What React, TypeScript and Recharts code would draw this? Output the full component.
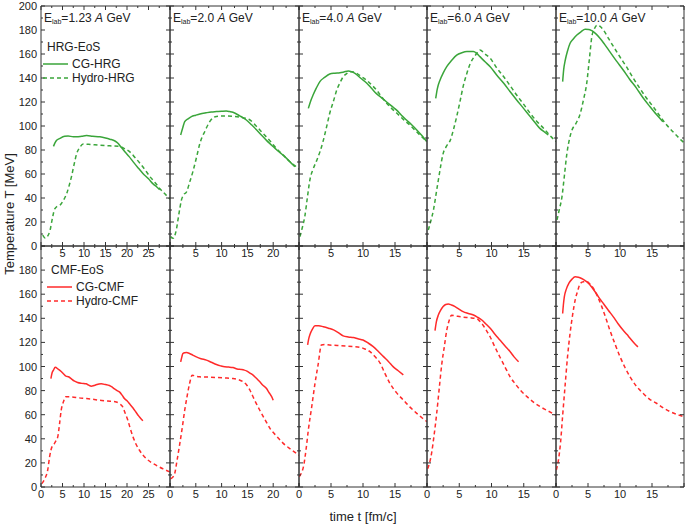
import { LineChart, Line, XAxis, YAxis } from 'recharts';

// beam energies (A GeV) per column and the time range of each column
const energies = ['1.23', '2.0', '4.0', '6.0', '10.0'];
const xMaxes = [30, 25, 20, 20, 20];
const yTicks = [0, 10, 20, 30, 40, 50, 60, 70, 80, 90, 100, 110, 120, 130, 140, 150, 160, 170, 180, 190, 200];
const xTicks30 = [0, 2.5, 5, 7.5, 10, 12.5, 15, 17.5, 20, 22.5, 25, 27.5, 30];
const xTicks25 = [0, 2.5, 5, 7.5, 10, 12.5, 15, 17.5, 20, 22.5, 25];
const xTicks20 = [0, 2.5, 5, 7.5, 10, 12.5, 15, 17.5, 20];

// [t fm/c, T MeV]  HRG equation of state (top row)
const cgHrg1 = [[2.9,83],[3.5,87.5],[4.4,89.7],[5.5,91.5],[6.3,91.7],[7.5,91],[8.3,91],[9.5,91.5],[10.6,92],[12,91.5],[13.7,91],[15,90],[16,89],[17.2,87.5],[17.9,85.6],[18.7,82],[19.5,78.6],[20.5,74.5],[21.4,70.3],[22.5,65.5],[23.7,60.5],[25,56],[26,52],[27,49],[27.6,47]];
const hydroHrg1 = [[0.4,9],[1,6.5],[1.5,8],[2.1,13],[2.7,24],[3.2,31],[4,33.5],[4.4,34],[5.2,38],[6,44],[6.6,51],[7.1,58],[7.7,68],[8.3,77],[9,82],[9.8,85],[11,84.8],[13.7,84],[16,83.5],[18.3,83],[19.5,81],[20.6,78.6],[21.8,74],[23,69],[24.2,63.5],[25.3,58],[26.5,53],[27.6,48],[28.8,43.5],[30,39]];
const cgHrg2 = [[2.07,92.5],[2.5,99],[2.85,103.6],[3.5,106],[4.15,107.8],[5,109],[5.8,110],[7,111],[8,111.7],[9,112],[10,112.3],[10.9,112.5],[11.6,112],[12.2,111.4],[13.5,108.5],[14.8,105],[15.8,101],[16.8,96.7],[17.8,92],[18.7,88],[19.7,84],[20.7,80],[21.7,76.5],[22.6,73],[23.4,69.5],[24.2,66]];
const hydroHrg2 = [[0.1,7.8],[0.6,6.4],[1.2,13],[1.7,26],[2.2,38],[2.7,43],[3.2,45],[3.8,53],[4.5,63],[5.2,75],[5.8,85.6],[6.8,96],[7.7,103.6],[8.4,107],[9,108],[10.5,108.3],[12.2,108],[14,107],[15.5,105],[16.8,99.5],[18,94],[19.4,87.5],[20.7,81],[22,75.5],[23.3,70],[24.2,67],[25,64]];
const cgHrg4 = [[1.46,114.7],[1.8,120.5],[2.2,125.8],[2.7,131.5],[3.26,137],[4,140.5],[4.8,143.3],[5.6,144],[6.4,144.4],[7,145],[7.7,145.8],[8.2,145.3],[8.75,143.9],[9.6,140],[10.6,135.6],[11.4,131],[12.1,127],[12.9,123.5],[13.7,120],[14.5,116.5],[15.3,113],[16,109],[16.8,105],[17.6,101],[18.4,96.7],[19.2,92],[19.95,87]];
const hydroHrg4 = [[0.16,7.8],[0.5,15],[0.9,24.4],[1.3,40],[1.7,55],[2.2,64],[2.8,71.7],[3.3,79],[3.8,88],[4.3,99],[4.8,110.6],[5.4,121],[5.9,130],[6.4,136],[6.9,141],[7.4,143.5],[8,145.3],[8.5,145],[9,144],[9.8,141],[10.6,138],[11.4,134],[12.1,130],[12.9,124.5],[13.7,119],[14.5,114.5],[15.3,110.6],[16.3,105.5],[17.3,100.8],[18.6,94],[20,87]];
const cgHrg6 = [[1.35,123],[1.6,131],[2,138],[2.5,144],[3.06,149.4],[3.8,154.5],[4.6,159],[5.4,161],[6.2,162],[7.2,162],[7.7,160.5],[8.2,157.8],[9,153.5],[9.8,149.4],[10.8,142.5],[11.9,135.6],[12.9,128.5],[13.9,121.7],[15,114.5],[16,107.8],[16.8,102.5],[17.5,98],[18.2,95],[18.8,92.5]];
const hydroHrg6 = [[0.2,13.3],[0.6,21],[1,30],[1.4,43],[1.76,55],[2.1,66],[2.5,77],[3,83],[3.6,88],[4.1,97],[4.6,107.8],[5.1,120],[5.6,132.8],[6.1,142.5],[6.7,152],[7.1,156],[7.5,159],[8.2,163.3],[9,160],[9.8,156.4],[10.8,148.5],[11.9,141],[12.9,133.5],[13.9,125.8],[15,118],[16,110.6],[17,104],[18.1,98],[19,92.5],[20,87]];
const cgHrg10 = [[1.04,137],[1.2,147],[1.45,155],[1.8,162.5],[2.2,168.9],[2.7,172.5],[3.26,175.8],[3.9,178.5],[4.56,180.6],[5.1,180.5],[5.6,179.4],[6.2,177],[6.9,173],[7.6,168],[8.4,162],[9.4,154.5],[10.5,146.7],[11.5,139],[12.6,131.4],[13.6,123.5],[14.7,116],[15.7,109.5],[16.7,103.6]];
const hydroHrg10 = [[0.16,21.7],[0.5,30],[0.93,41],[1.3,58],[1.7,77],[2.1,89],[2.5,96.7],[3.1,102],[3.8,110.6],[4.3,122],[4.8,135.6],[5.2,155],[5.6,174.4],[6,181],[6.4,184],[6.9,183],[7.4,180],[8.2,173],[9,166],[10,157.5],[11,149.4],[12,140.5],[13.1,131.4],[14.1,123.5],[15.2,116],[16.2,108.5],[17.3,100.8],[18.4,94.5],[19.6,88],[20,86]];

// CMF equation of state (bottom row)
const cgCmf1 = [[2.3,90],[2.6,95],[2.9,97],[3.3,99.4],[4,97.8],[4.7,95.8],[5.2,94],[5.8,92],[6.4,91.5],[7,90],[7.7,88],[8.5,86.7],[9.5,86],[10.5,85.6],[11.1,84.5],[11.7,83.7],[12.3,84.2],[12.8,84.8],[14,85.6],[15,85],[15.9,84.2],[16.5,83],[17.1,81.4],[17.7,80],[18.3,78.7],[18.9,76],[19.4,73.4],[20,71.5],[20.6,69],[21.4,65.5],[22.1,62],[22.7,59],[23.3,56.5],[23.7,55]];
const hydroCmf1 = [[0.2,2.8],[0.9,7],[1.55,13.9],[2,25],[2.3,30.5],[2.7,34.5],[3.1,36],[3.5,38.5],[3.9,41.6],[4.3,52],[4.7,63.7],[5.2,70.5],[5.7,74.8],[7,74.8],[8.8,74],[10.5,73.4],[12,72.8],[13.6,72],[15.5,71.4],[17.5,70.6],[18.3,69],[19,66.5],[19.6,61],[20.2,55.4],[20.8,48],[21.4,41.6],[22.1,35.5],[22.9,30.5],[23.7,26.5],[24.5,23.5],[25.6,20.5],[26.8,18],[28.4,15],[30,12.5]];
const cgCmf2 = [[2.07,103.9],[2.3,108],[2.5,110.8],[2.85,111.5],[3.2,111.6],[3.8,110.8],[4.4,109.5],[5.1,108],[6,106.5],[7.06,105.3],[8,103.5],[9,101.6],[9.8,100.5],[10.6,99.7],[11.4,99.5],[12.2,99.1],[13,98],[13.9,97.5],[14.4,97],[14.8,96.4],[15.5,94.5],[16.1,92.8],[16.8,90],[17.4,87.3],[18,84.5],[18.7,81.7],[19.1,79],[19.4,77],[19.7,75],[20,72]];
const hydroCmf2 = [[0.1,6.9],[0.5,8],[0.9,11],[1.4,23],[1.9,36],[2.4,50],[2.85,63.7],[3.3,75],[3.8,85.9],[4.3,92.8],[5,92],[5.7,91.4],[7.5,91.2],[9,90.9],[10.5,90.5],[12.2,90],[13.3,89],[14.2,87.3],[14.9,84.5],[15.5,80.3],[16.4,72],[17.4,63.7],[18.4,56],[19.4,48.5],[20.7,42],[22,36],[23.5,31],[25,26.3]];
const cgCmf4 = [[1.35,118],[1.5,122.5],[1.7,126.3],[2.1,131],[2.5,133.8],[3.1,133.8],[3.8,133],[4.6,131.8],[5.4,130.4],[6.2,128],[6.9,125.4],[7.7,124.5],[8.5,124],[9.2,123],[10,122],[10.8,119.5],[11.6,116.5],[12.4,112.5],[13.2,108.2],[14,104],[14.7,99.9],[15.5,96.5],[16.3,93]];
const hydroCmf4 = [[0.05,8.6],[0.4,12],[0.7,16.9],[1.1,31],[1.46,47.3],[2,67],[2.5,86],[3,102],[3.5,117.8],[4.2,118.2],[4.8,117.8],[6,117.5],[7.4,117],[8.5,116.5],[9.5,116],[10.3,114.5],[11.1,112.3],[11.9,108],[12.7,102.6],[13.4,94.5],[14.2,86],[15.2,78.5],[16.3,72.2],[17.3,66.5],[18.4,61.1],[19.2,57.5],[20,54.2]];
const cgCmf6 = [[1.24,129.7],[1.45,137],[1.76,142.7],[2.1,146.5],[2.5,149.7],[2.9,151.5],[3.3,151.9],[3.8,151],[4.35,149.7],[5,147.5],[5.6,145.5],[6.4,144],[7.2,142.7],[7.8,141],[8.5,138.6],[9.1,135.5],[9.8,131.7],[10.5,127],[11.3,122],[12.1,117],[12.9,112.3],[13.5,108],[14.2,104]];
const hydroCmf6 = [[0.1,15.2],[0.4,20],[0.7,27.7],[1.1,43],[1.5,60.9],[1.9,82],[2.3,102.4],[2.7,117],[3.06,130],[3.4,137.5],[3.8,142.5],[4.7,141.7],[5.6,141],[6.6,140.5],[7.7,139.7],[8.2,137.5],[8.7,134.2],[9.2,130],[9.8,124.5],[10.5,116.5],[11.3,107.9],[12.1,99.5],[12.9,91.3],[13.7,85.5],[14.5,80.2],[15.5,75],[16.5,70.5],[17.5,66.8],[18.6,63.6],[20,59.5]];
const cgCmf10 = [[1.04,144],[1.15,151],[1.3,157.8],[1.6,164],[2,168.9],[2.5,172.5],[3,174.4],[3.5,174],[4,173],[4.5,171.5],[5.1,168.9],[5.7,165],[6.3,160.6],[6.8,156.5],[7.4,152.3],[8.2,146.5],[8.96,141.2],[9.7,135.5],[10.5,130.1],[11.1,126.5],[11.6,123.2],[12.2,119.5],[12.8,116.3]];
const hydroCmf10 = [[0.05,14.1],[0.4,23],[0.7,36.3],[1.05,60],[1.45,86],[1.8,108],[2.2,127.6],[2.6,143],[3,155.3],[3.4,163],[3.8,169],[4.3,170.3],[4.8,170.4],[5.3,168.5],[5.85,164.9],[6.5,158],[7.15,149.7],[7.8,140],[8.4,130.4],[9.2,119],[10,108.2],[10.8,99],[11.55,91.6],[12.5,84],[13.6,77.8],[14.6,73],[15.7,69.5],[16.7,65.8],[17.8,62.6],[19,60],[20,58.4]];

const cgHrg = [cgHrg1, cgHrg2, cgHrg4, cgHrg6, cgHrg10];
const hydroHrg = [hydroHrg1, hydroHrg2, hydroHrg4, hydroHrg6, hydroHrg10];
const cgCmf = [cgCmf1, cgCmf2, cgCmf4, cgCmf6, cgCmf10];
const hydroCmf = [hydroCmf1, hydroCmf2, hydroCmf4, hydroCmf6, hydroCmf10];
const xTickSets = [xTicks30, xTicks25, xTicks20, xTicks20, xTicks20];

const GREEN = '#3aa53a';
const RED = '#ff2a2a';
const AXIS = '#333';
const TEXT = '#222';
const FONT = '"Liberation Sans", Arial, sans-serif';

const colLeft = [41, 170, 299, 427, 556, 684];
const rowTop = [6, 246, 487];
const PADX = 40;
const PADY = 20;

const toPts = (arr: number[][]) => arr.map(([t, T]) => ({ t, T }));
const isMajor = (v: number, step: number) => Math.abs(v / step - Math.round(v / step)) < 1e-6;

const Panel = ({ col, row }: { col: number; row: number }) => {
  const pw = colLeft[col + 1] - colLeft[col];
  const ph = rowTop[row + 1] - rowTop[row];
  const xMax = xMaxes[col];
  const top = row === 0;
  const color = top ? GREEN : RED;
  const solid = top ? cgHrg[col] : cgCmf[col];
  const dashed = top ? hydroHrg[col] : hydroCmf[col];

  const bottomTick = (p: any) => {
    const v = p.payload.value;
    const major = isMajor(v, 5);
    const label = major && v < xMax - 1e-6 && (v > 0 || !top);
    return (
      <g>
        <line x1={p.x} x2={p.x} y1={p.y} y2={p.y - (major ? 4 : 2)} stroke={AXIS} />
        {label && (
          <text x={p.x} y={p.y + 11} textAnchor="middle" fontSize={11} fill={TEXT} fontFamily={FONT}>
            {v}
          </text>
        )}
      </g>
    );
  };
  const topTick = (p: any) => {
    const major = isMajor(p.payload.value, 5);
    return <line x1={p.x} x2={p.x} y1={p.y} y2={p.y + (major ? 4 : 2)} stroke={AXIS} />;
  };
  const leftTick = (p: any) => {
    const v = p.payload.value;
    const major = isMajor(v, 20);
    const label = col === 0 && major && (top || v < 200);
    return (
      <g>
        <line x1={p.x} x2={p.x + (major ? 4 : 2)} y1={p.y} y2={p.y} stroke={AXIS} />
        {label && (
          <text x={p.x - 4} y={p.y + 4} textAnchor="end" fontSize={11} fill={TEXT} fontFamily={FONT}>
            {v}
          </text>
        )}
      </g>
    );
  };
  const rightTick = (p: any) => {
    const major = isMajor(p.payload.value, 20);
    return <line x1={p.x} x2={p.x - (major ? 4 : 2)} y1={p.y} y2={p.y} stroke={AXIS} />;
  };

  return (
    <div style={{ position: 'absolute', left: colLeft[col] - PADX, top: rowTop[row] - PADY }}>
      <LineChart width={pw + 2 * PADX} height={ph + 2 * PADY} margin={{ top: 0, right: 0, bottom: 0, left: 0 }}>
        <XAxis xAxisId="b" orientation="bottom" type="number" dataKey="t" domain={[0, xMax]} ticks={xTickSets[col]}
          interval={0} height={PADY} tickSize={0} tickMargin={0} tickLine={false} tick={bottomTick}
          axisLine={{ stroke: AXIS }} allowDataOverflow />
        <XAxis xAxisId="t" orientation="top" type="number" dataKey="t" domain={[0, xMax]} ticks={xTickSets[col]}
          interval={0} height={PADY} tickSize={0} tickMargin={0} tickLine={false} tick={topTick}
          axisLine={{ stroke: AXIS }} allowDataOverflow />
        <YAxis yAxisId="l" orientation="left" type="number" domain={[0, 200]} ticks={yTicks} interval={0}
          width={PADX} tickSize={0} tickMargin={0} tickLine={false} tick={leftTick}
          axisLine={{ stroke: AXIS }} allowDataOverflow />
        <YAxis yAxisId="r" orientation="right" type="number" domain={[0, 200]} ticks={yTicks} interval={0}
          width={PADX} tickSize={0} tickMargin={0} tickLine={false} tick={rightTick}
          axisLine={{ stroke: AXIS }} allowDataOverflow />
        <Line data={toPts(solid)} dataKey="T" xAxisId="b" yAxisId="l" type="monotone" stroke={color}
          strokeWidth={1.5} dot={false} isAnimationActive={false} />
        <Line data={toPts(dashed)} dataKey="T" xAxisId="t" yAxisId="r" type="monotone" stroke={color}
          strokeWidth={1.5} strokeDasharray="4 3" dot={false} isAnimationActive={false} />
      </LineChart>
    </div>
  );
};

const LegendBlock = ({ x, y, title, color, solidName, dashedName }: any) => (
  <div style={{ position: 'absolute', left: x, top: y, fontSize: 12, color: TEXT, fontFamily: FONT, lineHeight: '14px' }}>
    <div style={{ marginLeft: 4 }}>{title}</div>
    <div style={{ display: 'flex', alignItems: 'center', height: 14, marginTop: 3 }}>
      <svg width={26} height={6}><line x1={0} x2={25} y1={3} y2={3} stroke={color} strokeWidth={1.5} /></svg>
      <span style={{ marginLeft: 3 }}>{solidName}</span>
    </div>
    <div style={{ display: 'flex', alignItems: 'center', height: 14 }}>
      <svg width={26} height={6}><line x1={0} x2={25} y1={3} y2={3} stroke={color} strokeWidth={1.5} strokeDasharray="4 3" /></svg>
      <span style={{ marginLeft: 3 }}>{dashedName}</span>
    </div>
  </div>
);

export default function App() {
  return (
    <div style={{ position: 'absolute', left: 0, top: 0, width: 685, height: 524, background: '#fff', overflow: 'hidden', fontFamily: FONT }}>
      {[0, 1].map((row) => [0, 1, 2, 3, 4].map((col) => <Panel key={`${row}-${col}`} col={col} row={row} />))}
      {energies.map((e, i) => (
        <div key={e} style={{ position: 'absolute', left: colLeft[i] + 3, top: 11, fontSize: 12, color: TEXT, whiteSpace: 'nowrap', lineHeight: '14px' }}>
          E<sub style={{ fontSize: 7, verticalAlign: '-2px' }}>lab</sub>={e} <i>A</i> GeV
        </div>
      ))}
      <LegendBlock x={43} y={40} title="HRG-EoS" color={GREEN} solidName="CG-HRG" dashedName="Hydro-HRG" />
      <LegendBlock x={47} y={263} title="CMF-EoS" color={RED} solidName="CG-CMF" dashedName="Hydro-CMF" />
      <div style={{ position: 'absolute', left: 9, top: 214, transform: 'translate(-50%, -50%) rotate(-90deg)', fontSize: 13, color: TEXT, whiteSpace: 'nowrap' }}>
        Temperature T [MeV]
      </div>
      <div style={{ position: 'absolute', left: 363, top: 516, transform: 'translate(-50%, -50%)', fontSize: 13, color: TEXT, whiteSpace: 'nowrap' }}>
        time t [fm/c]
      </div>
    </div>
  );
}
